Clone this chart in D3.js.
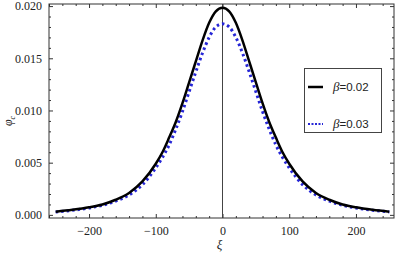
<!DOCTYPE html>
<html>
<head>
<meta charset="utf-8">
<script src="https://cdn.jsdelivr.net/npm/d3@7"></script>
<style>
  html, body { margin: 0; padding: 0; background: #fff; }
  svg { display: block; }
  .tick text { font-family: "Liberation Serif", "DejaVu Serif", serif; font-size: 12px; fill: #222; }
  .tick line { stroke: #333; }
</style>
</head>
<body>
<div id="chart"></div>
<script>
// xi values
const xiVals = [-250, -225, -200, -180, -160, -140, -120, -100, -90, -80, -70, -60, -50, -40, -30, -20, -10, 0,
                10, 20, 30, 40, 50, 60, 70, 80, 90, 100, 120, 140, 160, 180, 200, 225, 250];
// phi_c, beta = 0.02 (solid black)
const beta002 = [0.00030, 0.00048, 0.00072, 0.00100, 0.00145, 0.00210, 0.00320, 0.00490, 0.00600, 0.00740, 0.00890, 0.01070, 0.01270, 0.01470, 0.01670, 0.01840, 0.01950, 0.01985,
                 0.01950, 0.01840, 0.01670, 0.01470, 0.01270, 0.01070, 0.00890, 0.00740, 0.00600, 0.00490, 0.00320, 0.00210, 0.00145, 0.00100, 0.00072, 0.00048, 0.00030];
// phi_c, beta = 0.03 (dotted blue)
const beta003 = [0.00028, 0.00044, 0.00066, 0.00092, 0.00132, 0.00190, 0.00290, 0.00450, 0.00550, 0.00670, 0.00820, 0.00990, 0.01180, 0.01370, 0.01550, 0.01700, 0.01800, 0.01830,
                 0.01800, 0.01700, 0.01550, 0.01370, 0.01180, 0.00990, 0.00820, 0.00670, 0.00550, 0.00450, 0.00290, 0.00190, 0.00132, 0.00092, 0.00066, 0.00044, 0.00028];

const xMajor = [-200, -100, 0, 100, 200];
const yMajor = [0, 0.005, 0.010, 0.015, 0.020];
const legendLabels = ["0.02", "0.03"];

const width = 400, height = 256;
const mLeft = 49, mRight = 394, mTop = 4, mBottom = 218;

const x = d3.scaleLinear().domain([-260, 257]).range([mLeft, mRight]);
const y = d3.scaleLinear().domain([-0.0003, 0.0202]).range([mBottom, mTop]);

const svg = d3.select("#chart").append("svg")
  .attr("width", width)
  .attr("height", height);

// minor ticks
const xMinor = d3.range(-260, 258, 20).filter(v => xMajor.indexOf(v) < 0);
const yMinor = d3.range(0, 0.0203, 0.001).filter(v => yMajor.every(m => Math.abs(m - v) > 1e-6));

function addAxis(axis, tx, ty) {
  const g = svg.append("g").attr("transform", "translate(" + tx + "," + ty + ")").call(axis);
  g.select(".domain").remove();
  return g;
}

addAxis(d3.axisBottom(x).tickValues(xMajor).tickSize(-4).tickPadding(8), 0, mBottom);
addAxis(d3.axisBottom(x).tickValues(xMinor).tickSize(-2).tickFormat(""), 0, mBottom);
addAxis(d3.axisTop(x).tickValues(xMajor).tickSize(-4).tickFormat(""), 0, mTop);
addAxis(d3.axisTop(x).tickValues(xMinor).tickSize(-2).tickFormat(""), 0, mTop);

addAxis(d3.axisLeft(y).tickValues(yMajor).tickSize(-4).tickPadding(7).tickFormat(d3.format(".3f")), mLeft, 0);
addAxis(d3.axisLeft(y).tickValues(yMinor).tickSize(-2).tickFormat(""), mLeft, 0);
addAxis(d3.axisRight(y).tickValues(yMajor).tickSize(-4).tickFormat(""), mRight, 0);
addAxis(d3.axisRight(y).tickValues(yMinor).tickSize(-2).tickFormat(""), mRight, 0);

// vertical line at xi = 0
svg.append("line")
  .attr("x1", x(0)).attr("x2", x(0))
  .attr("y1", mTop).attr("y2", mBottom)
  .attr("stroke", "#444").attr("stroke-width", 1);

// frame
svg.append("rect")
  .attr("x", mLeft).attr("y", mTop)
  .attr("width", mRight - mLeft).attr("height", mBottom - mTop)
  .attr("fill", "none").attr("stroke", "#333").attr("stroke-width", 1);

const line = d3.line().curve(d3.curveMonotoneX);

svg.append("path")
  .attr("d", line(xiVals.map((v, i) => [x(v), y(beta003[i])])))
  .attr("fill", "none")
  .attr("stroke", "#2626d6")
  .attr("stroke-width", 3)
  .attr("stroke-dasharray", "2.5,3");

svg.append("path")
  .attr("d", line(xiVals.map((v, i) => [x(v), y(beta002[i])])))
  .attr("fill", "none")
  .attr("stroke", "#000")
  .attr("stroke-width", 2.5);

// legend
const lg = svg.append("g");
lg.append("rect")
  .attr("x", 304.5).attr("y", 68.5).attr("width", 77).attr("height", 64)
  .attr("fill", "#fff").attr("stroke", "#444").attr("stroke-width", 1);

const legendY = [87, 124];
const legendStyle = [
  { stroke: "#000", width: 2.5, dash: null },
  { stroke: "#2626d6", width: 2, dash: "2,1.5" }
];
legendLabels.forEach((lab, i) => {
  lg.append("line")
    .attr("x1", 308).attr("x2", 323)
    .attr("y1", legendY[i]).attr("y2", legendY[i])
    .attr("stroke", legendStyle[i].stroke)
    .attr("stroke-width", legendStyle[i].width)
    .attr("stroke-dasharray", legendStyle[i].dash);
  const t = lg.append("text")
    .attr("x", 333).attr("y", legendY[i] + 4)
    .attr("font-family", "'Liberation Sans', Arial, sans-serif")
    .attr("font-size", 11.5)
    .attr("fill", "#222");
  t.append("tspan").attr("font-style", "italic").attr("font-family", "'Liberation Serif', serif").attr("font-size", 13).text("β");
  t.append("tspan").text("=" + lab);
});

// axis labels
const yl = svg.append("text")
  .attr("transform", "translate(12,121) rotate(-90)")
  .attr("text-anchor", "middle")
  .attr("font-family", "'Liberation Serif', serif")
  .attr("font-style", "italic")
  .attr("font-size", 12)
  .attr("fill", "#222");
yl.append("tspan").text("φ");
yl.append("tspan").attr("font-size", 8).attr("dy", 3).text("c");

svg.append("text")
  .attr("x", x(0) - 3).attr("y", 249)
  .attr("text-anchor", "middle")
  .attr("font-family", "'Liberation Serif', serif")
  .attr("font-style", "italic")
  .attr("font-size", 13)
  .attr("fill", "#222")
  .text("ξ");
</script>
</body>
</html>
